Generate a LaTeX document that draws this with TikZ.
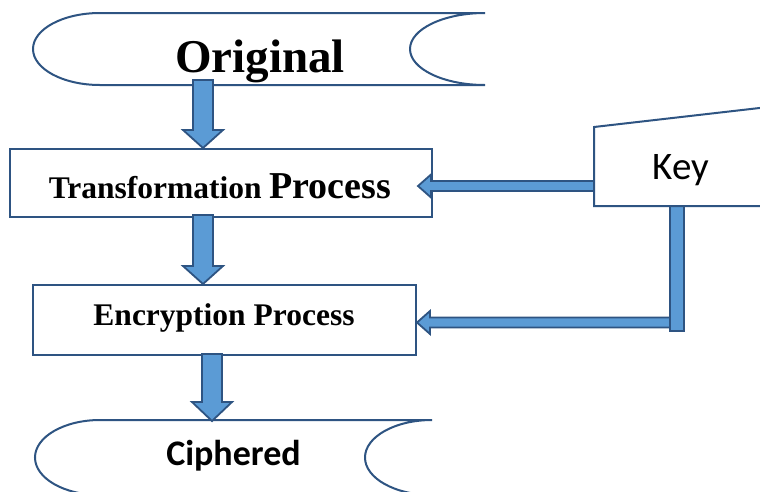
\documentclass[tikz,border=0pt]{standalone}
\usepackage{fontspec}
\setmainfont{Liberation Serif}
\newfontfamily\calib{Carlito}
\usetikzlibrary{calc}
\definecolor{edgeblue}{RGB}{46,84,130}
\definecolor{fillblue}{RGB}{91,155,213}
\tikzset{
  outline/.style={draw=edgeblue, line width=2pt},
  procbox/.style={outline, fill=white, rectangle, inner sep=0pt},
  barrow/.style={draw=edgeblue, line width=1.8pt, fill=fillblue, line join=miter},
  lbl/.style={anchor=base, inner sep=0pt, text=black},
}
\newcommand\vblock[3]{%
  \coordinate (vbT) at (#1 |- #2);
  \draw[barrow] ($(#1)+(-10,0)$) -- ($(vbT)+(-10,-#3)$) -- ($(vbT)+(-20,-#3)$) -- (vbT)
    -- ($(vbT)+(20,-#3)$) -- ($(vbT)+(10,-#3)$) -- ($(#1)+(10,0)$) -- cycle;}
\newcommand\hblock[2]{%
  \coordinate (hbT) at (#2 |- #1);
  \draw[barrow] ($(#1)+(0,-5)$) -- ($(hbT)+(13,-5)$) -- ($(hbT)+(13,-11.5)$) -- (hbT)
    -- ($(hbT)+(13,11.5)$) -- ($(hbT)+(13,5)$) -- ($(#1)+(0,5)$) -- cycle;}
\begin{document}
\begin{tikzpicture}[x=1pt, y=-1pt]
  \clip (0,0) rectangle (760,491);
  \fill[white] (0,0) rectangle (760,491);

  % Original (stored data shape)
  \draw[outline, fill=white] (485,13) -- (100,13)
    arc[start angle=-90, end angle=-270, x radius=67, y radius=36]
    -- (485,85)
    arc[start angle=90, end angle=270, x radius=75, y radius=36] -- cycle;
  % Ciphered (bottom edge runs just below the picture)
  \draw[outline, fill=white] (432,420) -- (100,420)
    arc[start angle=-90, end angle=-270, x radius=65, y radius=37.5]
    -- (432,495)
    arc[start angle=90, end angle=270, x radius=67, y radius=37.5] -- cycle;
  \coordinate (ciphtop) at (212,421);

  % process boxes
  \node[procbox, minimum width=422pt, minimum height=68pt] (trans) at (221,183) {};
  \node[procbox, minimum width=383pt, minimum height=70pt] (enc) at (224.5,320) {};

  % vertical block arrows
  \coordinate (a1s) at (203,80);
  \coordinate (a2s) at (203,215);
  \coordinate (a3s) at (212,354);
  \vblock{a1s}{trans.north}{18}
  \vblock{a2s}{enc.north}{18}
  \vblock{a3s}{ciphtop}{19}

  % horizontal block arrows from key
  \coordinate (keyw) at (594,186);
  \coordinate (t1) at ($(trans.east)+(-15,0)$);
  \hblock{keyw}{t1}
  \coordinate (barbot) at (670,322.5);
  \hblock{barbot}{enc.east}

  % vertical bar below key
  \draw[barrow] (670,204) rectangle (684,331);

  % Key (manual input shape)
  \draw[outline, fill=white] (594,127) -- (790,104.5) -- (790,206) -- (594,206) -- cycle;

  % texts
  \node[lbl] (origtext) at (260,72) {\fontsize{47}{50}\selectfont\bfseries Original};
  \node[lbl] (transtext) at (220,198) {\bfseries\fontsize{31.5}{34}\selectfont Transformation \fontsize{38}{40}\selectfont Process};
  \node[lbl] (enctext) at (224,325) {\bfseries\fontsize{31.5}{34}\selectfont Encryption Process};
  \node[lbl] (ciphtext) at (233.5,465) {\calib\bfseries\fontsize{36}{38}\selectfont Ciphered};
  \node[lbl] (keytext) at (681,179) {\calib\fontsize{39}{41}\selectfont Key};
\end{tikzpicture}
\end{document}
